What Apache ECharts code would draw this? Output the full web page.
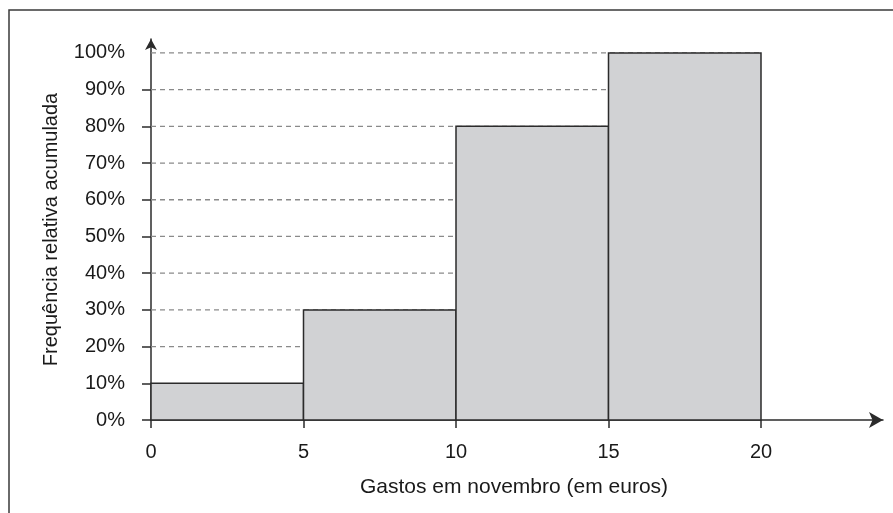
<!DOCTYPE html>
<html>
<head>
<meta charset="utf-8">
<script src="https://cdn.jsdelivr.net/npm/echarts@6/dist/echarts.min.js"></script>
<style>
html,body{margin:0;padding:0;background:#fff;}
#chart{width:893px;height:513px;}
</style>
</head>
<body>
<div id="chart"></div>
<script>
// Data
var binStarts = [0, 5, 10, 15];
var binEnds = [5, 10, 15, 20];
var cumFreq = [10, 30, 80, 100];
var xTicks = [0, 5, 10, 15, 20];
var yTickMarks = [0, 10, 20, 30, 40, 50, 60, 70, 80, 90];
var yLabels = [0, 10, 20, 30, 40, 50, 60, 70, 80, 90, 100];
var gridLevels = [20, 30, 40, 50, 60, 70, 80, 90, 100];
var xTitle = 'Gastos em novembro (em euros)';
var yTitle = 'Frequência relativa acumulada';

var chart = echarts.init(document.getElementById('chart'), null, {renderer: 'canvas'});
var FONT = '"Liberation Sans", Arial, sans-serif';
var AXC = '#2b2b2b';

var barData = binStarts.map(function (s, i) { return [s, binEnds[i], cumFreq[i]]; });
var gridData = gridLevels.map(function (v) { return [0, binEnds[binEnds.length - 1], v]; });

chart.setOption({
  animation: false,
  backgroundColor: '#fff',
  grid: {left: 151, right: 10, top: 39, bottom: 93, containLabel: false},
  graphic: [{
    type: 'rect', shape: {x: 9, y: 10, width: 1000, height: 1000},
    style: {fill: 'none', stroke: '#3a3a3a', lineWidth: 1.5}, z: 100, silent: true
  }, {
    type: 'text', x: 514, y: 487,
    style: {text: xTitle, font: '21px ' + FONT, fill: '#1a1a1a', align: 'center', verticalAlign: 'middle'}
  }],
  xAxis: {
    type: 'value', min: 0, max: 24,
    axisLine: {show: true, symbol: ['none', 'arrow'], symbolSize: [12, 14], symbolOffset: [0, 0],
      lineStyle: {color: AXC, width: 1.5}},
    axisTick: {show: true, customValues: xTicks, length: 8, inside: false, lineStyle: {color: AXC, width: 1.5}},
    axisLabel: {customValues: xTicks, margin: 22, fontSize: 20, fontFamily: FONT, color: '#1a1a1a'},
    splitLine: {show: false}
  },
  yAxis: {
    type: 'value', min: 0, max: 103.8,
    axisLine: {show: true, symbol: ['none', 'arrow'], symbolSize: [9, 11],
      lineStyle: {color: AXC, width: 1.5}},
    axisTick: {show: true, customValues: yTickMarks, length: 9, lineStyle: {color: AXC, width: 1.5}},
    axisLabel: {customValues: yLabels, margin: 26, fontSize: 20, fontFamily: FONT, color: '#1a1a1a',
      formatter: function (v) { return v + '%'; }},
    splitLine: {show: false},
    name: yTitle, nameLocation: 'middle', nameGap: 90, nameRotate: 90,
    nameTextStyle: {fontSize: 20, fontFamily: FONT, color: '#1a1a1a'}
  },
  series: [{
    type: 'custom', z: 1, silent: true,
    data: gridData,
    renderItem: function (params, api) {
      var p1 = api.coord([api.value(0), api.value(2)]);
      var p2 = api.coord([api.value(1), api.value(2)]);
      return {type: 'line', shape: {x1: p1[0], y1: p1[1], x2: p2[0], y2: p2[1]},
        style: {stroke: '#8a8a8a', lineWidth: 1.3, lineDash: [5, 4]}};
    }
  }, {
    type: 'custom', z: 2, silent: true,
    data: barData,
    renderItem: function (params, api) {
      var p1 = api.coord([api.value(0), api.value(2)]);
      var p2 = api.coord([api.value(1), 0]);
      return {type: 'rect', shape: {x: p1[0], y: p1[1], width: p2[0] - p1[0], height: p2[1] - p1[1]},
        style: {fill: '#d1d2d4', stroke: '#2b2b2b', lineWidth: 1.5}};
    }
  }]
});
</script>
</body>
</html>
